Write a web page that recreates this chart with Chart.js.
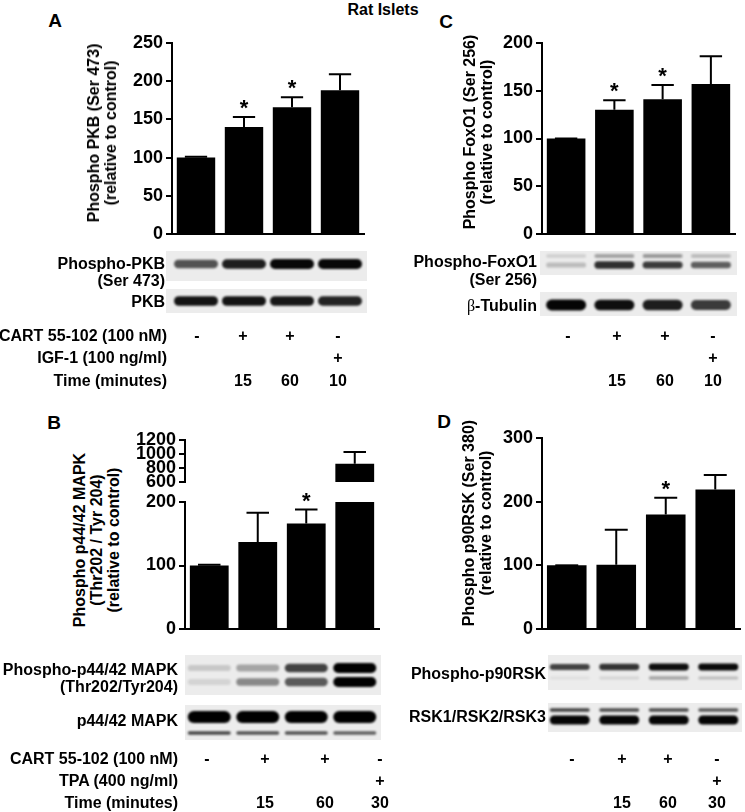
<!DOCTYPE html>
<html><head><meta charset="utf-8">
<script src="https://cdn.jsdelivr.net/npm/chart.js@4.4.1/dist/chart.umd.min.js"></script>
<style>
html,body{margin:0;padding:0;background:#fff;}
#fig{position:relative;width:745px;height:812px;overflow:hidden;font-family:"Liberation Sans",Arial,Helvetica,sans-serif;font-weight:bold;color:#000;background:#fff;}
canvas{position:absolute;}
.t{position:absolute;white-space:nowrap;font-size:16px;line-height:17px;z-index:2;}
.r{transform:translate(-100%,-50%);text-align:right;}
.c{transform:translate(-50%,-50%);text-align:center;}
.rot{transform:translate(-50%,-50%) rotate(-90deg);text-align:center;}
.L{font-size:19px;line-height:20px;}
.beta{font-family:"Liberation Serif","DejaVu Serif",serif;font-weight:normal;}
</style></head><body><div id="fig"></div>
<script>
// ---------------- data ----------------
const lanes = ['1', '2', '3', '4'];

const pkbValues = [100, 140, 166, 188];
const pkbErrTop = [101, 153, 179, 209];
const pkbSignif = [0, 1, 1, 0];
const pkbTicks = [0, 50, 100, 150, 200, 250];

const foxValues = [100, 130, 141, 157];
const foxErrTop = [100, 140, 156, 186];
const foxSignif = [0, 1, 1, 0];
const foxTicks = [0, 50, 100, 150, 200];

const mapkValues = [100, 137, 166, 862];
const mapkErrTop = [101, 183, 188, 1030];
const mapkSignif = [0, 0, 1, 0];
const mapkTicksLow = [0, 100, 200];
const mapkTicksHigh = [600, 800, 1000, 1200];

const rskValues = [100, 101, 180, 219];
const rskErrTop = [100, 156, 206, 242];
const rskSignif = [0, 0, 1, 0];
const rskTicks = [0, 100, 200, 300];

const cartRow = ['-', '+', '+', '-'];
const igfRow = ['', '', '', '+'];
const timeRowAC = ['', '15', '60', '10'];
const tpaRow = ['', '', '', '+'];
const timeRowBD = ['', '15', '60', '30'];

// relative band strengths read from the blots (0..1)
const bandPhosphoPKB = [0.65, 0.88, 0.97, 0.97];
const bandPKB = [0.92, 0.92, 0.9, 0.85];
const bandPhosphoFoxUpper = [0.12, 0.3, 0.35, 0.2];
const bandPhosphoFoxLower = [0.2, 0.8, 0.75, 0.6];
const bandTubulin = [0.98, 0.94, 0.88, 0.75];
const bandPhosphoMapkUpper = [0.15, 0.3, 0.72, 1.0];
const bandPhosphoMapkLower = [0.1, 0.42, 0.62, 1.0];
const bandMapkMain = [1, 1, 1, 1];
const bandMapkMinor = [0.7, 0.65, 0.65, 0.6];
const bandPhosphoRsk = [0.72, 0.78, 0.94, 0.96];
const bandPhosphoRskFaint = [0.05, 0.1, 0.3, 0.2];
const bandRskUpper = [0.72, 0.68, 0.68, 0.62];
const bandRskLower = [0.98, 0.98, 0.98, 0.98];

// ---------------- helpers ----------------
const FONT = "'Liberation Sans', Arial, Helvetica, sans-serif";
const fig = document.getElementById('fig');

function addCanvas(box) {
  const c = document.createElement('canvas');
  c.width = box.w; c.height = box.h;
  c.style.left = box.left + 'px'; c.style.top = box.top + 'px';
  c.style.width = box.w + 'px'; c.style.height = box.h + 'px';
  fig.appendChild(c);
  return c;
}
function txt(x, y, s, cls, style) {
  const d = document.createElement('div');
  d.className = 't ' + (cls || 'c');
  d.style.left = x + 'px'; d.style.top = y + 'px';
  if (style) d.style.cssText += style;
  d.innerHTML = s;
  fig.appendChild(d);
  return d;
}

function errPlugin(errs, sig) {
  return {
    id: 'errbars',
    afterDatasetsDraw(chart) {
      const ctx = chart.ctx, meta = chart.getDatasetMeta(0), y = chart.scales.y;
      const vals = chart.data.datasets[0].data;
      ctx.save();
      ctx.strokeStyle = '#000'; ctx.fillStyle = '#000'; ctx.lineWidth = 2;
      meta.data.forEach((bar, i) => {
        const v = vals[i], e = errs[i];
        if (v == null || e == null || e > y.max) return;
        const top = y.getPixelForValue(Math.min(v, y.max));
        const ep = y.getPixelForValue(e);
        const cap = bar.width * 0.58;
        ctx.beginPath();
        ctx.moveTo(bar.x, top); ctx.lineTo(bar.x, ep);
        ctx.moveTo(bar.x - cap / 2, ep); ctx.lineTo(bar.x + cap / 2, ep);
        ctx.stroke();
        if (sig[i]) {
          ctx.font = 'bold 22px ' + FONT;
          ctx.textAlign = 'center'; ctx.textBaseline = 'alphabetic';
          ctx.fillText('*', bar.x, ep - 2);
        }
      });
      ctx.restore();
    }
  };
}

function blotPlugin(box, blots) {
  return {
    id: 'blots',
    afterDraw(chart) {
      const ctx = chart.ctx, x = chart.scales.x;
      blots.forEach(b => {
        const bx = b.x0 - box.left, by = b.y0 - box.top, bw = b.x1 - b.x0, bh = b.y1 - b.y0;
        ctx.save();
        ctx.fillStyle = '#ececec';
        ctx.fillRect(bx, by, bw, bh);
        ctx.beginPath(); ctx.rect(bx, by, bw, bh); ctx.clip();
        ctx.filter = 'blur(1.2px)';
        b.bands.forEach(bd => {
          bd.data.forEach((a, i) => {
            const cx = x.getPixelForValue(i) + (b.dx || 0);
            const h = bd.h * (0.55 + 0.45 * a);
            const w = b.w;
            const cy = bd.y - box.top;
            ctx.fillStyle = 'rgba(0,0,0,' + a + ')';
            ctx.beginPath();
            ctx.roundRect(cx - w / 2, cy - h / 2, w, h, h / 2);
            ctx.fill();
          });
        });
        ctx.restore();
      });
    }
  };
}

function makeBar(box, area, values, errs, sig, min, max, ticks, showX, extraPlugins) {
  const c = addCanvas(box);
  const yw = area.l - box.left;
  return new Chart(c, {
    type: 'bar',
    data: { labels: lanes, datasets: [{ data: values, backgroundColor: '#000', borderWidth: 0,
      categoryPercentage: 1, barPercentage: 0.8, clip: 0 }] },
    options: {
      responsive: false, animation: false, events: [],
      layout: { padding: { left: 0, top: area.t - box.top, right: box.left + box.w - area.r, bottom: box.top + box.h - area.b } },
      plugins: { legend: { display: false }, tooltip: { enabled: false }, title: { display: false } },
      scales: {
        x: {
          display: showX, offset: true,
          grid: { display: false }, ticks: { display: false },
          border: { display: true, color: '#000', width: 2 },
          afterFit: s => { s.height = 0; }
        },
        y: {
          min: min, max: max,
          afterBuildTicks: s => { s.ticks = ticks.map(v => ({ value: v })); },
          afterFit: s => { s.width = yw; },
          grid: { display: true, drawOnChartArea: false, drawTicks: true, tickLength: 6, lineWidth: 2, color: '#000' },
          border: { display: true, color: '#000', width: 2 },
          ticks: { color: '#000', padding: 3, autoSkip: false, callback: v => String(v),
            font: { family: FONT, size: 18, weight: 'bold', lineHeight: 1 } }
        }
      }
    },
    plugins: [errPlugin(errs, sig)].concat(extraPlugins || [])
  });
}

// ---------------- Panel A ----------------
const boxA = { left: 110, top: 30, w: 260, h: 295 };
makeBar(boxA, { l: 172, r: 364, t: 43, b: 234 }, pkbValues, pkbErrTop, pkbSignif, 0, 250, pkbTicks, true, [
  blotPlugin(boxA, [
    { x0: 166, x1: 367, y0: 251, y1: 281, w: 44, bands: [{ y: 264, h: 10, data: bandPhosphoPKB }] },
    { x0: 166, x1: 367, y0: 289, y1: 313, w: 44, bands: [{ y: 301, h: 10, data: bandPKB }] }
  ])
]);

// ---------------- Panel C ----------------
const boxC = { left: 488, top: 30, w: 257, h: 295 };
makeBar(boxC, { l: 542, r: 735, t: 43, b: 234 }, foxValues, foxErrTop, foxSignif, 0, 200, foxTicks, true, [
  blotPlugin(boxC, [
    { x0: 540, x1: 737, y0: 251, y1: 275, w: 40, bands: [{ y: 256, h: 6, data: bandPhosphoFoxUpper }, { y: 265, h: 8, data: bandPhosphoFoxLower }] },
    { x0: 540, x1: 737, y0: 292, y1: 316, w: 40, bands: [{ y: 305, h: 11, data: bandTubulin }] }
  ])
]);

// ---------------- Panel B (broken axis) ----------------
const boxBup = { left: 125, top: 428, w: 258, h: 66 };
makeBar(boxBup, { l: 185, r: 379, t: 438, b: 484 }, mapkValues, mapkErrTop, mapkSignif.map(() => 0), 600, 1200, mapkTicksHigh, false);
const boxB = { left: 125, top: 490, w: 258, h: 255 };
makeBar(boxB, { l: 185, r: 379, t: 501, b: 629 }, mapkValues, mapkErrTop, mapkSignif, 0, 200, mapkTicksLow, true, [
  blotPlugin(boxB, [
    { x0: 185, x1: 381, y0: 655, y1: 695, w: 43, bands: [{ y: 668, h: 10, data: bandPhosphoMapkUpper }, { y: 682, h: 10, data: bandPhosphoMapkLower }] },
    { x0: 185, x1: 381, y0: 705, y1: 740, w: 43, bands: [{ y: 717, h: 12, data: bandMapkMain }, { y: 733, h: 4, data: bandMapkMinor }] }
  ])
]);

// ---------------- Panel D ----------------
const boxD = { left: 488, top: 426, w: 257, h: 320 };
makeBar(boxD, { l: 542, r: 740, t: 438, b: 629 }, rskValues, rskErrTop, rskSignif, 0, 300, rskTicks, true, [
  blotPlugin(boxD, [
    { x0: 548, x1: 742, y0: 655, y1: 690, w: 40, dx: 3, bands: [{ y: 667, h: 7, data: bandPhosphoRsk }, { y: 678, h: 5, data: bandPhosphoRskFaint }] },
    { x0: 548, x1: 742, y0: 703, y1: 732, w: 40, dx: 3, bands: [{ y: 710, h: 4, data: bandRskUpper }, { y: 720, h: 9, data: bandRskLower }] }
  ])
]);

// ---------------- texts ----------------
txt(383, 9, 'Rat Islets', 'c');
txt(55, 21, 'A', 'c L');
txt(446, 22, 'C', 'c L');
txt(54, 423, 'B', 'c L');
txt(444, 422, 'D', 'c L');

txt(102, 133, 'Phospho PKB (Ser 473)<br>(relative to control)', 'rot');
txt(478, 132, 'Phospho FoxO1 (Ser 256)<br>(relative to control)', 'rot');
txt(96, 540, 'Phospho p44/42 MAPK<br>(Thr202 / Tyr 204)<br>(relative to control)', 'rot');
txt(477, 523, 'Phospho p90RSK (Ser 380)<br>(relative to control)', 'rot');

txt(165, 263, 'Phospho-PKB', 'r');
txt(165, 280, '(Ser 473)', 'r');
txt(165, 301, 'PKB', 'r');
txt(167, 335, 'CART 55-102 (100 nM)', 'r');
txt(167, 357, 'IGF-1 (100 ng/ml)', 'r');
txt(167, 380, 'Time (minutes)', 'r');

txt(537, 261, 'Phospho-FoxO1', 'r');
txt(537, 279, '(Ser 256)', 'r');
txt(537, 305, '<span class="beta">β</span>-Tubulin', 'r');

txt(178, 669, 'Phospho-p44/42 MAPK', 'r');
txt(178, 686, '(Thr202/Tyr204)', 'r');
txt(178, 720, 'p44/42 MAPK', 'r');
txt(178, 758, 'CART 55-102 (100 nM)', 'r');
txt(178, 780, 'TPA (400 ng/ml)', 'r');
txt(178, 802, 'Time (minutes)', 'r');

txt(546, 673, 'Phospho-p90RSK', 'r');
txt(546, 716, 'RSK1/RSK2/RSK3', 'r');

function signRows(cols, rows, rowsData) {
  rowsData.forEach((arr, r) => arr.forEach((s, i) => { if (s) txt(cols[i], rows[r], s, 'c'); }));
}
signRows([197, 243, 290, 338], [335, 357, 380], [cartRow, igfRow, timeRowAC]);
signRows([568, 617, 665, 713], [335, 357, 380], [cartRow, igfRow, timeRowAC]);
signRows([207, 265, 325, 380], [758, 780, 802], [cartRow, tpaRow, timeRowBD]);
signRows([572, 622, 668, 717], [758, 780, 802], [cartRow, tpaRow, timeRowBD]);
</script>
</body></html>
